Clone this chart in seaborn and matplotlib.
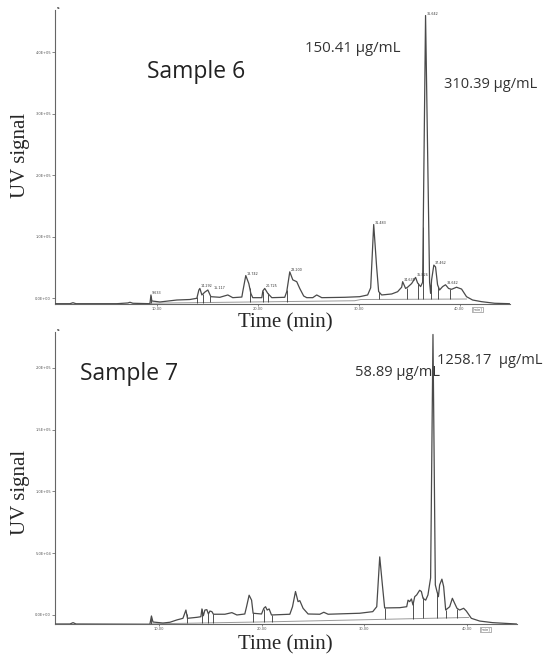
import numpy as np
import pandas as pd
import matplotlib
matplotlib.use("Agg")
import matplotlib.pyplot as plt
import matplotlib.transforms as mtransforms
from matplotlib.ticker import FixedLocator, FuncFormatter
import seaborn as sns

# ==============================
# Data (time in min, signal in units of 1E+05)
# ==============================
s6_time = [-0.1, 1.39, 1.68, 1.98, 6.04, 7.13, 7.33, 7.62, 9.31, 9.41, 9.50, 10.30, 11.98,
           13.27, 13.96, 14.16, 14.26, 14.46, 14.75, 15.05, 15.35, 16.24, 17.03, 17.52,
           18.42, 18.51, 18.81, 19.11, 19.31, 19.50, 20.40, 20.50, 20.69, 20.99, 21.39,
           22.67, 22.87, 23.17, 23.47, 23.86, 24.16, 24.55, 24.85, 25.45, 25.84, 26.34,
           28.61, 30.10, 30.89, 31.19, 31.49, 31.78, 31.98, 32.28, 33.27, 33.86, 34.26,
           34.36, 34.65, 34.85, 35.25, 35.64, 35.84, 36.14, 36.34, 36.63, 37.03, 37.13,
           37.23, 37.45, 37.62, 37.82, 38.02, 38.32, 38.61, 38.91, 39.21, 39.70, 40.20,
           40.69, 41.29, 42.18, 43.47, 44.95]
s6_signal = [-0.088, -0.088, -0.072, -0.088, -0.088, -0.076, -0.065, -0.081, -0.088, 0.054,
             -0.044, -0.060, -0.028, -0.020, 0.000, 0.135, 0.160, 0.054, 0.100, 0.135,
             0.026, 0.016, 0.054, 0.010, 0.020, 0.107, 0.370, 0.240, 0.080, 0.010, 0.010,
             0.120, 0.160, 0.080, 0.010, 0.016, 0.107, 0.430, 0.300, 0.270, 0.160, 0.037,
             0.010, 0.010, 0.054, 0.010, 0.016, 0.026, 0.054, 0.170, 1.200, 0.510, 0.110,
             0.054, 0.070, 0.107, 0.180, 0.270, 0.160, 0.180, 0.240, 0.340, 0.250, 0.190,
             0.260, 4.600, 0.260, 0.080, 0.300, 0.540, 0.510, 0.220, 0.135, 0.190, 0.220,
             0.160, 0.146, 0.180, 0.150, 0.026, -0.028, -0.055, -0.081, -0.088]

s6_peak_labels = ["9.633", "14.292", "15.117", "18.742", "20.725", "23.200", "31.483",
                  "34.635", "35.826", "36.642", "37.462", "38.642"]
s6_peak_time = [9.41, 14.26, 15.05, 18.81, 20.69, 23.17, 31.49, 34.36, 35.64, 36.63, 37.45, 38.61]
s6_peak_height = [0.054, 0.16, 0.135, 0.37, 0.16, 0.43, 1.2, 0.27, 0.34, 4.6, 0.54, 0.22]

s6_drop_time = [9.4, 14.0, 14.55, 15.3, 19.2, 20.5, 21.0, 22.9, 31.98, 34.75, 35.84,
                36.4, 37.2, 37.9, 39.1]
s6_base_time = [9.3, 29.6, 30.2, 40.7]
s6_base_signal = [-0.080, -0.040, -0.020, -0.012]

s7_time = [-0.1, 1.33, 1.63, 1.92, 9.12, 9.27, 9.42, 10.39, 11.07, 11.75, 12.34, 12.63,
           12.78, 13.70, 14.09, 14.19, 14.33, 14.48, 14.67, 14.82, 14.97, 15.16, 15.31,
           16.43, 17.11, 17.60, 18.37, 18.54, 18.79, 19.03, 19.18, 20.00, 20.22, 20.39,
           20.55, 20.74, 20.97, 22.76, 23.02, 23.31, 23.56, 23.73, 24.05, 24.54, 25.68,
           26.07, 26.49, 29.57, 30.84, 31.23, 31.52, 31.78, 32.00, 33.47, 34.15, 34.28,
           34.44, 34.61, 34.76, 34.93, 35.12, 35.41, 35.58, 35.74, 36.00, 36.22, 36.48,
           36.71, 36.94, 37.10, 37.24, 37.36, 37.58, 37.75, 37.95, 38.34, 38.60, 38.82,
           39.05, 39.31, 39.70, 39.96, 40.45, 41.26, 42.52, 44.86]
s7_signal = [-0.073, -0.073, -0.062, -0.073, -0.075, -0.008, -0.057, -0.065, -0.059, -0.040,
             -0.027, 0.040, -0.027, -0.019, -0.014, 0.049, -0.006, 0.040, 0.043, 0.008,
             0.032, 0.027, 0.006, 0.006, 0.019, 0.000, 0.008, 0.067, 0.160, 0.120, 0.014,
             0.008, 0.054, 0.067, 0.040, 0.049, 0.000, 0.006, 0.067, 0.190, 0.108, 0.116,
             0.054, 0.008, 0.006, 0.022, 0.006, 0.014, 0.027, 0.067, 0.470, 0.243, 0.057,
             0.059, 0.067, 0.120, 0.108, 0.130, 0.081, 0.148, 0.162, 0.200, 0.190, 0.135,
             0.120, 0.162, 0.300, 2.270, 0.243, 0.190, 0.148, 0.243, 0.290, 0.230, 0.040,
             0.067, 0.135, 0.095, 0.054, 0.040, 0.054, 0.032, -0.027, -0.049, -0.062, -0.073]

s7_drop_time = [9.27, 12.7, 14.2, 14.8, 15.3, 19.2, 20.2, 21.0, 32.0, 34.8, 35.7, 37.1, 38.0, 39.1]
s7_base_time = [9.3, 21.0, 40.2]
s7_base_signal = [-0.072, -0.055, -0.020]

s6_yticks = [0.0, 1.0, 2.0, 3.0, 4.0]
s7_yticks = [0.0, 0.5, 1.0, 1.5, 2.0]
x_ticks = [10, 20, 30, 40]

sns.set_style("ticks")
plt.rcParams["font.family"] = ["DejaVu Sans"]

fig = plt.figure(figsize=(5.48, 6.58), dpi=100)
ax_top = fig.add_axes([55/548, 1 - 304/658, 455/548, 294/658])
ax_bot = fig.add_axes([55/548, 1 - 624/658, 462/548, 292/658])

line_col = "#4a4a4a"


def draw_panel(ax, t, s, drop_t, base_t, base_s, yticks, xlim, ylim):
    df = pd.DataFrame({"Time": t, "Signal": np.array(s) * 1e5})
    # integration baseline and peak drop lines
    ax.plot(base_t, np.array(base_s) * 1e5, color="#9a9a9a", lw=0.7, zorder=1)
    lo = np.interp(drop_t, base_t, np.array(base_s) * 1e5)
    hi = np.interp(drop_t, df["Time"], df["Signal"])
    ax.vlines(drop_t, lo, hi, color="#333333", lw=0.6, zorder=2)
    sns.lineplot(data=df, x="Time", y="Signal", ax=ax, color=line_col, lw=0.9,
                 estimator=None, sort=False, zorder=3)
    ax.set_xlim(*xlim)
    ax.set_ylim(ylim[0] * 1e5, ylim[1] * 1e5)
    ax.yaxis.set_major_locator(FixedLocator(np.array(yticks) * 1e5))
    ax.yaxis.set_major_formatter(FuncFormatter(lambda v, p: f"{v:.1E}"))
    ax.xaxis.set_major_locator(FixedLocator(x_ticks))
    ax.xaxis.set_major_formatter(FuncFormatter(lambda v, p: f"{v:.2f}"))
    ax.tick_params(axis="y", labelsize=2.6, length=2, width=0.5, pad=0.8, colors="#555555")
    ax.tick_params(axis="x", labelsize=2.6, length=1.2, width=0.5, pad=0.8, colors="#555555")
    ax.set_xlabel("")
    ax.set_ylabel("")
    sns.despine(ax=ax)
    for sp in ["left", "bottom"]:
        ax.spines[sp].set_color("#666666")
        ax.spines[sp].set_linewidth(0.8)
    trans = mtransforms.blended_transform_factory(ax.transData, ax.transAxes)
    ax.text(41.8, -0.012, "[min]", transform=trans, fontsize=2.6, color="#555555",
            ha="center", va="top",
            bbox=dict(boxstyle="square,pad=0.15", fc="white", ec="#777777", lw=0.4))
    ax.text(0.003, 1.0, "s", transform=ax.transAxes, fontsize=3.2, fontweight="bold",
            color="#333333", ha="left", va="bottom")


draw_panel(ax_top, s6_time, s6_signal, s6_drop_time, s6_base_time, s6_base_signal,
           s6_yticks, (-0.1, 45.0), (-0.093, 4.69))
draw_panel(ax_bot, s7_time, s7_signal, s7_drop_time, s7_base_time, s7_base_signal,
           s7_yticks, (-0.13, 44.9), (-0.073, 2.29))

# retention time labels on the Sample 6 peaks
for lab, pt, ph in zip(s6_peak_labels, s6_peak_time, s6_peak_height):
    dx = 0.55 if lab == "15.117" else 0.12
    ax_top.text(pt + dx, ph * 1e5, lab, fontsize=2.4, color="#333333",
                ha="left", va="bottom")

serif = ["Liberation Serif", "DejaVu Serif"]
sans = ["Open Sans", "DejaVu Sans"]

fig.text(20/548, 1 - 155/658, "UV signal", rotation=90, fontsize=15, family=serif,
         ha="center", va="center")
fig.text(20/548, 1 - 492/658, "UV signal", rotation=90, fontsize=15, family=serif,
         ha="center", va="center")
fig.text(285/548, 1 - 323/658, "Time (min)", fontsize=15, family=serif,
         ha="center", va="center")
fig.text(285/548, 1 - 645/658, "Time (min)", fontsize=15, family=serif,
         ha="center", va="center")

fig.text(147/548, 1 - 72/658, "Sample 6", fontsize=16.5, family=sans, color="#222222",
         ha="left", va="center")
fig.text(80/548, 1 - 374/658, "Sample 7", fontsize=16.5, family=sans, color="#222222",
         ha="left", va="center")
fig.text(305/548, 1 - 49/658, "150.41 µg/mL", fontsize=10.8, family=sans, color="#333333",
         ha="left", va="center")
fig.text(444/548, 1 - 85/658, "310.39 µg/mL", fontsize=10.5, family=sans, color="#333333",
         ha="left", va="center")
fig.text(355/548, 1 - 373/658, "58.89 µg/mL", fontsize=10.5, family=sans, color="#333333",
         ha="left", va="center")
fig.text(437/548, 1 - 360/658, "1258.17  µg/mL", fontsize=10.5, family=sans, color="#333333",
         ha="left", va="center")

fig.savefig("out.png", dpi=100)
